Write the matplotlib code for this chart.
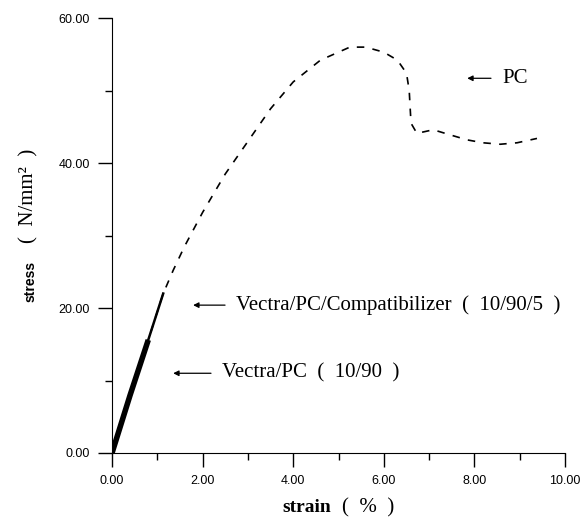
# Stress-strain curves of PC and Vectra/PC blends

import matplotlib.pyplot as plt
from matplotlib.ticker import MultipleLocator, FormatStrFormatter

# PC (dashed) curve, strain (%) vs stress (N/mm2)
pc_strain = [0.0, 0.5, 1.13, 1.35, 1.6, 2.0, 2.5, 3.0, 3.5, 4.0, 4.6, 5.25, 5.6,
             6.0, 6.3, 6.5, 6.56, 6.58, 6.6, 6.73, 7.09, 7.46, 7.84, 8.19, 8.57,
             8.94, 9.38]
pc_stress = [0.0, 9.8, 22.0, 25.2, 28.5, 33.2, 38.5, 43.0, 47.5, 51.2, 54.2, 56.0,
             56.0, 55.3, 54.2, 52.4, 50.0, 47.7, 45.5, 44.1, 44.6, 43.9, 43.2,
             42.8, 42.6, 42.8, 43.4]

# Vectra/PC/Compatibilizer (10/90/5)
comp_strain = [0.0, 0.4, 0.8, 1.13]
comp_stress = [0.0, 8.0, 15.6, 22.0]

# Vectra/PC (10/90)
vpc_strain = [0.0, 0.4, 0.8]
vpc_stress = [0.0, 8.0, 15.6]

serif = 'Liberation Serif'
sans = 'Liberation Sans'

fig = plt.figure(figsize=(5.88, 5.18), dpi=100)
ax = fig.add_axes([0.1905, 0.1255, 0.7705, 0.8395])

ax.plot(pc_strain, pc_stress, color='black', lw=1.2, linestyle=(0, (4.5, 5)))
ax.plot(comp_strain, comp_stress, color='black', lw=1.8)
ax.plot(vpc_strain, vpc_stress, color='black', lw=4, solid_capstyle='butt')

ax.set_xlim(0, 10)
ax.set_ylim(0, 60)
ax.spines['top'].set_visible(False)
ax.spines['right'].set_visible(False)
ax.xaxis.set_major_locator(MultipleLocator(2))
ax.xaxis.set_minor_locator(MultipleLocator(1))
ax.yaxis.set_major_locator(MultipleLocator(20))
ax.yaxis.set_minor_locator(MultipleLocator(10))
ax.xaxis.set_major_formatter(FormatStrFormatter('%.2f'))
ax.yaxis.set_major_formatter(FormatStrFormatter('%.2f'))
ax.tick_params(which='major', direction='out', length=10, width=1, pad=6)
ax.tick_params(which='minor', direction='out', length=5, width=1)
for lab in ax.get_xticklabels() + ax.get_yticklabels():
    lab.set_fontfamily(sans)
    lab.set_fontsize(9)

# axis titles, mixed fonts as in the original figure
fig.text(282 / 588, 1 - 512 / 518, 'strain', fontfamily=serif, fontweight='bold',
         fontsize=14, ha='left', va='baseline')
fig.text(342 / 588, 1 - 512 / 518, '(  %  )', fontfamily=serif, fontsize=15,
         ha='left', va='baseline')
fig.text(31 / 588, 1 - 302 / 518, 'stress', fontfamily=sans, fontweight='bold',
         fontsize=10, rotation=90, ha='center', va='bottom')
fig.text(29 / 588, 1 - 243 / 518, '(  N/mm\u00b2  )', fontfamily=serif, fontsize=15,
         rotation=90, ha='center', va='bottom')

arrow = dict(arrowstyle='-|>', color='black', lw=0.9, mutation_scale=8,
             shrinkA=6, shrinkB=0)
ax.annotate('PC', xy=(7.84, 51.7), xytext=(8.61, 51.7), fontfamily=serif,
            fontsize=15, va='center', arrowprops=arrow)
ax.annotate('Vectra/PC/Compatibilizer  (  10/90/5  )', xy=(1.79, 20.4),
            xytext=(2.74, 20.4), fontfamily=serif, fontsize=15, va='center',
            arrowprops=arrow)
ax.annotate('Vectra/PC  (  10/90  )', xy=(1.35, 11.0), xytext=(2.43, 11.0),
            fontfamily=serif, fontsize=15, va='center', arrowprops=arrow)

fig.savefig('out.png', dpi=100)
